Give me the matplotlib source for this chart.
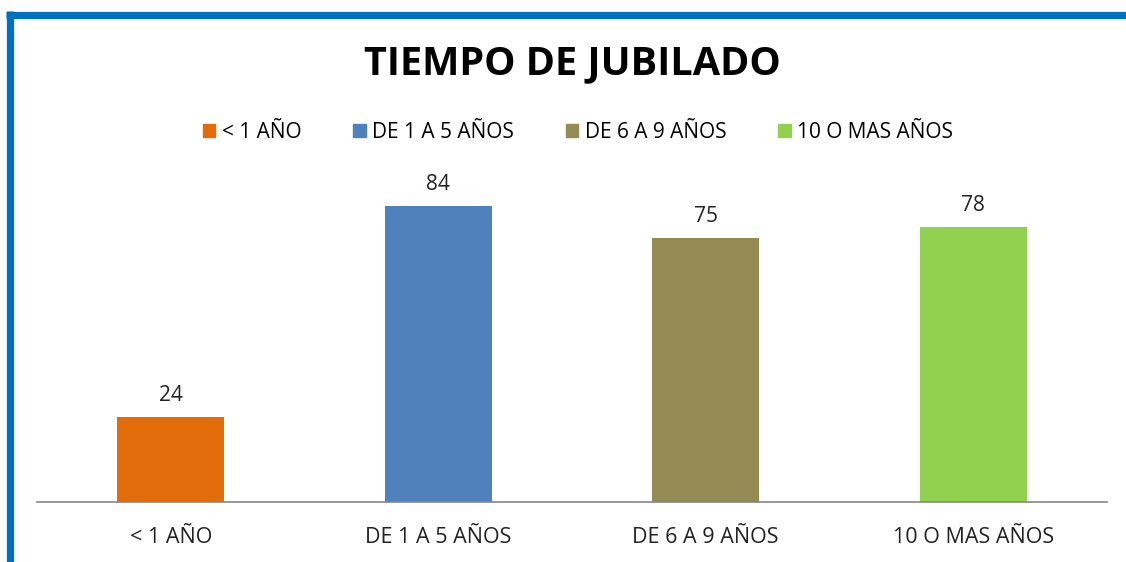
import matplotlib.pyplot as plt
from matplotlib.lines import Line2D
from matplotlib.patches import Patch

categories = ["< 1 AÑO", "DE 1 A 5 AÑOS", "DE 6 A 9 AÑOS", "10 O MAS AÑOS"]
values = [24, 84, 75, 78]
bar_colors = ["#E36C0A", "#4F81BD", "#948A54", "#92D050"]

plt.rcParams['font.family'] = ['Open Sans', 'DejaVu Sans']

fig = plt.figure(figsize=(11.26, 5.62), dpi=100)
ax = fig.add_axes([37 / 1126, 60 / 562, 1070 / 1126, 317 / 562])

x = range(len(categories))
bars = ax.bar(x, values, width=0.4, color=bar_colors)
ax.set_xlim(-0.5, len(categories) - 0.5)
ax.set_ylim(0, 90)

for b, v in zip(bars, values):
    ax.annotate(str(v), (b.get_x() + b.get_width() / 2, v), xytext=(0, 8),
                textcoords="offset points", ha="center", va="bottom",
                fontsize=15, color="#222222")

ax.set_xticks(list(x))
ax.set_xticklabels(categories, fontsize=15.5, color="#222222")
ax.tick_params(axis="x", length=0, pad=18)
ax.set_yticks([])
for s in ["top", "right", "left"]:
    ax.spines[s].set_visible(False)
ax.spines["bottom"].set_color("#868686")
ax.spines["bottom"].set_linewidth(1.2)

fig.text(572 / 1126, 1 - 64 / 562, "TIEMPO DE JUBILADO", ha="center", va="center",
         fontsize=28.5, fontweight="bold", color="black")

handles = [Patch(color=c) for c in bar_colors]
fig.legend(handles, categories, loc="center", bbox_to_anchor=(578 / 1126, 1 - 132 / 562),
           ncol=4, frameon=False, fontsize=15, handlelength=0.6, handleheight=0.6,
           handletextpad=0.3, columnspacing=2.5)

# blue frame at top and left
fig.add_artist(Line2D([6 / 1126, 1], [1 - 14.5 / 562] * 2, color="#0070C0", linewidth=5.2,
                      transform=fig.transFigure, solid_capstyle="butt"))
fig.add_artist(Line2D([9.5 / 1126] * 2, [0, 1 - 11 / 562], color="#0070C0", linewidth=5.2,
                      transform=fig.transFigure, solid_capstyle="butt"))

fig.savefig("out.png", dpi=100)
